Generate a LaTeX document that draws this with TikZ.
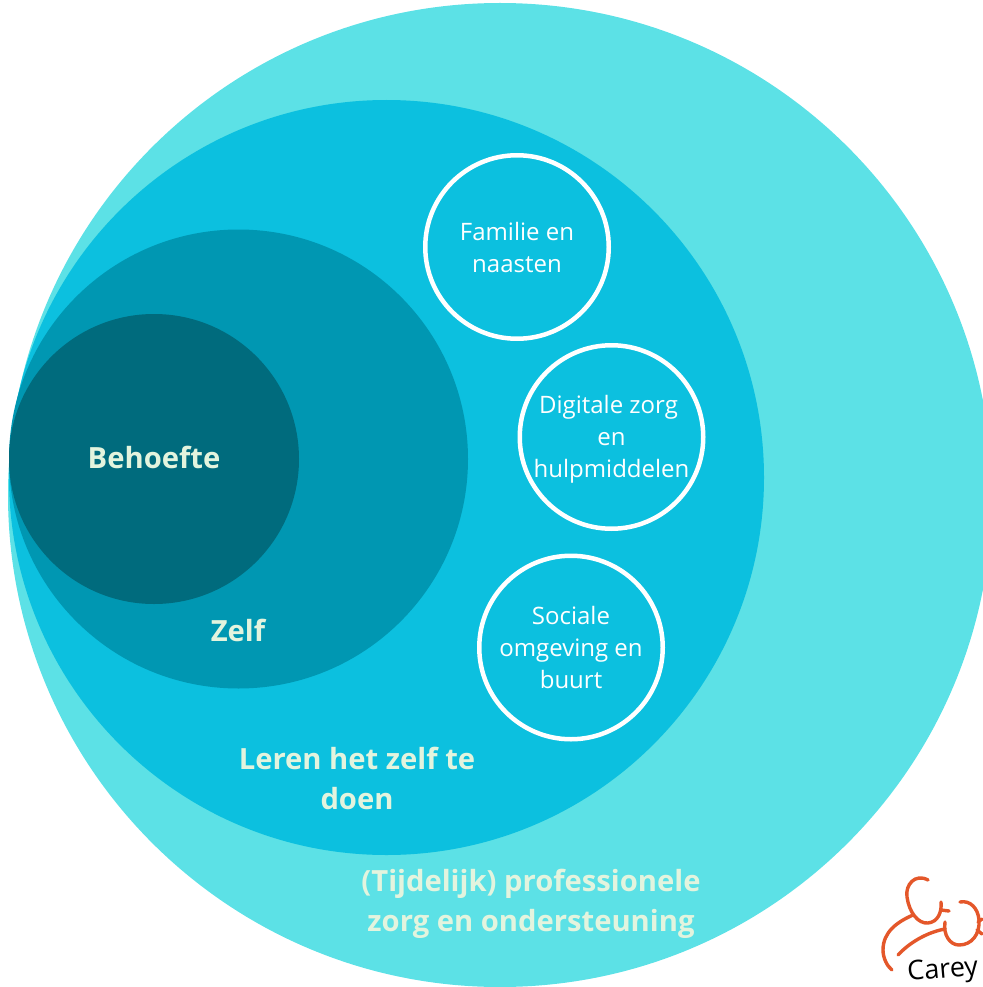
\documentclass[tikz,border=0pt]{standalone}
\usepackage{fontspec}
\setmainfont{Open Sans}
\usepackage{xcolor}
\usetikzlibrary{positioning}
\definecolor{zorgcyan}{HTML}{5CE1E6}
\definecolor{lerenblue}{HTML}{0CC0DF}
\definecolor{zelfblue}{HTML}{0097B2}
\definecolor{behoefteblue}{HTML}{006B7D}
\definecolor{labelgreen}{HTML}{E3F4DE}
\definecolor{logored}{HTML}{E4572A}

\begin{document}
\begin{tikzpicture}[x=1pt,y=-1pt,
		disc/.style={circle, inner sep=0pt, outer sep=0pt},
		helper/.style={circle, draw=white, line width=4.5pt, inner sep=0pt, minimum size=183.5pt,
			text=white, align=center, font=\fontsize{24}{32}\selectfont},
		ringlabel/.style={text=labelgreen, align=center, inner sep=0pt, font=\bfseries\fontsize{29.2}{40}\selectfont},
		logoline/.style={draw=logored, line width=3.4pt, line cap=round, line join=round}]
	\useasboundingbox (0,0) rectangle (982,987);
	% nested rings
	\node[disc, fill=zorgcyan, minimum size=984pt] (zorg) at (500,495) {};
	\node[disc, fill=lerenblue, minimum size=755pt] (leren) at (386.5,477.5) {};
	\node[disc, fill=zelfblue, minimum size=459pt] (zelf) at (238.5,459) {};
	\node[disc, fill=behoefteblue, minimum size=290pt] (behoefte) at (154,459) {};
	% ring labels
	\node[ringlabel] (behoeftelabel) at (154,457) {Behoefte};
	\node[ringlabel] (zelflabel) at (238,630) {Zelf};
	\node[ringlabel] (lerenlabel) at (357,778.5) {Leren het zelf te\\doen};
	\node[ringlabel] (zorglabel) at (531,903.4) {(Tijdelijk) professionele\\zorg en ondersteuning};
	% helpers
	\node[helper] (familie) at (517,247) {Familie en\\naasten};
	\node[helper] (digitaal) at (611.5,437) {\rule{0pt}{22.5pt}Digitale zorg\rule{6pt}{0pt}\\en\\hulpmiddelen};
	\node[helper] (sociaal) at (571,647.5) {Sociale\\omgeving en\\buurt};
	% logo
	\fill[white] (875,875) rectangle (982,987);
	\draw[logoline] (928,880) .. controls (915,873) and (905,885) .. (907,897)
		.. controls (909,912) and (918,924) .. (928,923)
		.. controls (938,922) and (942,912) .. (941,902);
	\draw[logoline] (941,910) -- (949,911);
	\draw[logoline] (913,915) .. controls (897,922) and (883,932) .. (883,950)
		.. controls (883,958) and (887,966) .. (892,970);
	\draw[logoline] (898,955) .. controls (910,942) and (928,932) .. (945,929);
	\draw[logoline] (945,922) .. controls (943,935) and (950,945) .. (959,945)
		.. controls (972,945) and (980,934) .. (979,920)
		.. controls (978,908) and (970,900) .. (960,902);
	\draw[logoline] (977,930) -- (982,934);
	\draw[logoline] (978,922) -- (982,919);
	\node[text=black, inner sep=0pt, anchor=base west, rotate=5, font=\fontsize{27}{28}\selectfont] (logotext) at (908,981) {Carey};
\end{tikzpicture}
\end{document}
